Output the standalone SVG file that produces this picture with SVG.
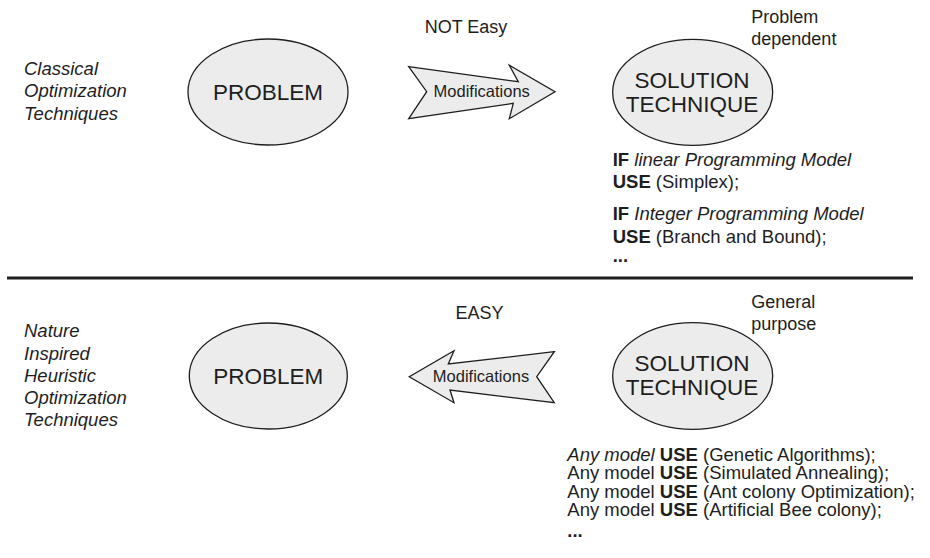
<svg xmlns="http://www.w3.org/2000/svg" width="930" height="558" viewBox="0 0 930 558">
<style>
text{font-family:"Liberation Sans",Arial,sans-serif;fill:#1e1e1e}
.node{fill:#ececec;stroke:#1e1e1e;stroke-width:1.3}
.big{font-size:22.5px;text-anchor:middle}
.lbl{font-size:18px}
.rule{font-size:18.5px}
.side{font-size:18.5px;font-style:italic}
.mod{font-size:16.5px;text-anchor:middle}
.arrow{fill:#ececec;stroke:#1e1e1e;stroke-width:1.3;stroke-linejoin:miter}
b,.b{font-weight:bold}
.i{font-style:italic}
</style>
<rect width="930" height="558" fill="#ffffff"/>

<g id="side-labels">
<text class="side" x="24" y="75">Classical</text>
<text class="side" x="24" y="97">Optimization</text>
<text class="side" x="24" y="119.5">Techniques</text>
<text class="side" x="24" y="337.3">Nature</text>
<text class="side" x="24" y="359.5">Inspired</text>
<text class="side" x="24" y="381.7">Heuristic</text>
<text class="side" x="24" y="403.8">Optimization</text>
<text class="side" x="24" y="426">Techniques</text>
</g>

<g id="problem-top">
<ellipse class="node" cx="268" cy="92" rx="80" ry="53"/>
<text class="big" x="268" y="99.5">PROBLEM</text>
</g>

<g id="solution-top">
<ellipse class="node" cx="692.7" cy="92.3" rx="80" ry="53"/>
<text class="big" x="692" y="88">SOLUTION</text>
<text class="big" x="692" y="111.7">TECHNIQUE</text>
</g>

<g id="problem-bottom">
<ellipse class="node" cx="268.3" cy="376" rx="79" ry="53"/>
<text class="big" x="268.3" y="383.5">PROBLEM</text>
</g>

<g id="solution-bottom">
<ellipse class="node" cx="692.7" cy="376" rx="80" ry="53.3"/>
<text class="big" x="692" y="370.7">SOLUTION</text>
<text class="big" x="692" y="395">TECHNIQUE</text>
</g>

<g id="connectors">
<g id="arrow-top">
<path class="arrow" d="M408.7,66.7 L518.3,81.7 L509.3,65.3 L555,91.7 L509.3,118.7 L513.3,103.3 L408.7,118.7 L426.7,91.7 Z"/>
<text class="mod" x="481.7" y="97.3">Modifications</text>
</g>
<g id="arrow-bottom">
<path class="arrow" d="M554.3,351.7 L448.3,364 L454,350.7 L409.3,376.7 L454,402.7 L450,390 L554.3,402.7 L536.7,376.7 Z"/>
<text class="mod" x="481" y="381.7">Modifications</text>
</g>
</g>

<g id="annotations">
<text class="lbl" x="466" y="33" text-anchor="middle">NOT Easy</text>
<text class="lbl" x="751.3" y="22.7">Problem</text>
<text class="lbl" x="751.3" y="45">dependent</text>
<text class="lbl" x="479.5" y="319.3" text-anchor="middle">EASY</text>
<text class="lbl" x="751.3" y="307.7">General</text>
<text class="lbl" x="751.3" y="330">purpose</text>
</g>

<g id="rules-top">
<text class="rule" x="612.7" y="165.7"><tspan class="b">IF</tspan> <tspan class="i">linear Programming Model</tspan></text>
<text class="rule" x="612.7" y="188.3"><tspan class="b">USE</tspan> (Simplex);</text>
<text class="rule" x="612.7" y="220"><tspan class="b">IF</tspan> <tspan class="i">Integer Programming Model</tspan></text>
<text class="rule" x="612.7" y="242.7"><tspan class="b">USE</tspan> (Branch and Bound);</text>
<text class="rule b" x="612.7" y="262">...</text>
</g>

<line id="divider" x1="7" y1="278" x2="913" y2="278" stroke="#1e1e1e" stroke-width="3"/>

<g id="rules-bottom">
<text class="rule" x="567.3" y="460.7"><tspan class="i">Any model</tspan> <tspan class="b">USE</tspan> (Genetic Algorithms);</text>
<text class="rule" x="567.3" y="479.2">Any model <tspan class="b">USE</tspan> (Simulated Annealing);</text>
<text class="rule" x="567.3" y="497.7">Any model <tspan class="b">USE</tspan> (Ant colony Optimization);</text>
<text class="rule" x="567.3" y="516.2">Any model <tspan class="b">USE</tspan> (Artificial Bee colony);</text>
<text class="rule b" x="567.3" y="537">...</text>
</g>
</svg>
